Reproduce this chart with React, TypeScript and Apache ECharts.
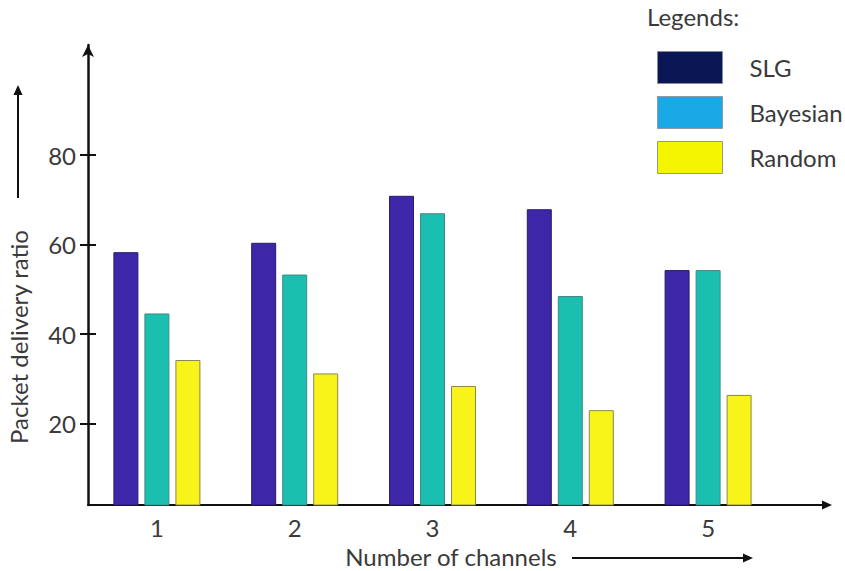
import React, { useEffect, useRef } from "react";
import * as echarts from "echarts";

const categories = ["1", "2", "3", "4", "5"];
const slg = [58.3, 60.4, 70.9, 67.9, 54.3];
const bayesian = [44.6, 53.3, 67.0, 48.5, 54.3];
const random = [34.2, 31.2, 28.4, 23.0, 26.4];
const yTicks = [20, 40, 60, 80];

const FONT = "Lato, 'Open Sans', sans-serif";
const TXT = "#3a3a3a";
const FS = 24;

export default function App() {
  const ref = useRef<HTMLDivElement>(null);
  useEffect(() => {
    document.body.style.margin = "0";
    if (!ref.current) return;
    const chart = echarts.init(ref.current, undefined, { renderer: "svg" });
    const arrow = (tx: number, ty: number, dir: "up" | "right") =>
      dir === "up"
        ? { type: "polygon", shape: { points: [[tx, ty], [tx - 4.5, ty + 10], [tx + 4.5, ty + 10]] }, style: { fill: "#111" } }
        : { type: "polygon", shape: { points: [[tx, ty], [tx - 10, ty - 4.5], [tx - 10, ty + 4.5]] }, style: { fill: "#111" } };
    chart.setOption({
      animation: false,
      backgroundColor: "#fff",
      textStyle: { fontFamily: FONT },
      title: {
        text: "Legends:",
        left: 647,
        top: 4,
        padding: 0,
        textStyle: { fontFamily: FONT, fontSize: FS, fontWeight: "normal", color: TXT },
      },
      legend: {
        orient: "vertical",
        left: 657,
        top: 51,
        padding: 0,
        itemWidth: 65,
        itemHeight: 32,
        itemGap: 12,
        icon: "rect",
        textStyle: { fontFamily: FONT, fontSize: FS, color: TXT, padding: [0, 0, 0, 22] },
        data: [
          { name: "SLG", itemStyle: { color: "#0b1654", borderColor: "#8a8a9a", borderWidth: 1 } },
          { name: "Bayesian", itemStyle: { color: "#1aa9e6", borderColor: "#8a9aa6", borderWidth: 1 } },
          { name: "Random", itemStyle: { color: "#f5f500", borderColor: "#9a9a80", borderWidth: 1 } },
        ],
      },
      grid: { left: 88, top: 45, width: 689, height: 460, containLabel: false, outerBoundsMode: "none" },
      xAxis: {
        type: "category",
        data: categories,
        axisLine: { lineStyle: { color: "#111", width: 2 } },
        axisTick: { show: false },
        axisLabel: { fontFamily: FONT, fontSize: FS, color: TXT, margin: 10 },
      },
      yAxis: [
        {
          type: "value",
          min: 1.8,
          max: 104.6,
          splitLine: { show: false },
          axisLine: {
            show: true,
            lineStyle: { color: "#111", width: 2.5 },
            symbol: ["none", "arrow"],
            symbolSize: [9, 12],
          },
          axisTick: { show: true, length: 8, customValues: yTicks, lineStyle: { color: "#111", width: 2 } },
          axisLabel: { customValues: yTicks, fontFamily: FONT, fontSize: FS, color: TXT, margin: 12 },
        },
        {
          type: "value",
          min: 1.8,
          max: 104.6,
          position: "left",
          splitLine: { show: false },
          axisLine: { show: false },
          axisTick: { show: true, inside: true, length: 8, customValues: yTicks, lineStyle: { color: "#111", width: 2 } },
          axisLabel: { show: false },
        },
      ],
      series: [
        {
          name: "SLG",
          type: "bar",
          data: slg,
          barWidth: 25,
          barGap: "24%",
          itemStyle: { color: "#3d27a8", borderColor: "#2a1c6e", borderWidth: 1 },
        },
        {
          name: "Bayesian",
          type: "bar",
          data: bayesian,
          barWidth: 25,
          barGap: "24%",
          itemStyle: { color: "#1bbfb0", borderColor: "#3f8a84", borderWidth: 1 },
        },
        {
          name: "Random",
          type: "bar",
          data: random,
          barWidth: 25,
          barGap: "24%",
          itemStyle: { color: "#f8f41a", borderColor: "#8a8650", borderWidth: 1 },
        },
      ],
      graphic: [
        { type: "line", shape: { x1: 776, y1: 505, x2: 824, y2: 505 }, style: { stroke: "#111", lineWidth: 2 } },
        arrow(832, 505, "right"),
        {
          type: "text",
          x: 18,
          y: 337,
          rotation: Math.PI / 2,
          style: { text: "Packet delivery ratio", fontFamily: FONT, fontSize: FS, fill: TXT, align: "center", verticalAlign: "middle" },
        },
        { type: "line", shape: { x1: 18, y1: 198, x2: 18, y2: 93 }, style: { stroke: "#111", lineWidth: 2 } },
        arrow(18, 85, "up"),
        {
          type: "text",
          x: 451,
          y: 556,
          style: { text: "Number of channels", fontFamily: FONT, fontSize: FS, fill: TXT, align: "center", verticalAlign: "middle" },
        },
        { type: "line", shape: { x1: 572, y1: 558, x2: 745, y2: 558 }, style: { stroke: "#111", lineWidth: 2 } },
        arrow(753, 558, "right"),
      ],
    });
    return () => chart.dispose();
  }, []);
  return <div ref={ref} style={{ width: 845, height: 571 }} />;
}
